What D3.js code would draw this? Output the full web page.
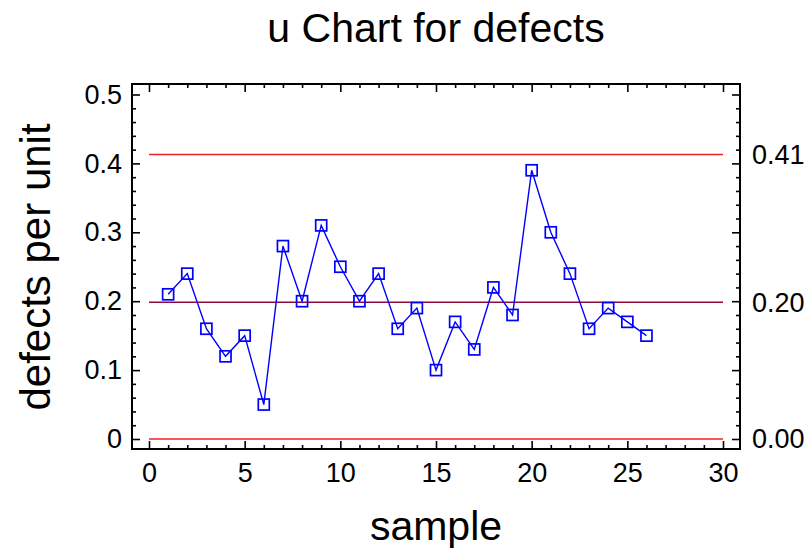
<!DOCTYPE html>
<html>
<head>
<meta charset="utf-8">
<script src="https://cdn.jsdelivr.net/npm/d3@7"></script>
<style>
  body { margin: 0; background: #fff; }
  text { font-family: "Liberation Sans", Arial, sans-serif; fill: #000; }
</style>
</head>
<body>
<svg id="chart" width="807" height="550"></svg>
<script>
// ---- data ----
const samples = [1,2,3,4,5,6,7,8,9,10,11,12,13,14,15,16,17,18,19,20,21,22,23,24,25,26];
const defectsPerUnit = [0.21,0.24,0.16,0.12,0.15,0.05,0.28,0.20,0.31,0.25,0.20,0.24,0.16,0.19,0.10,0.17,0.13,0.22,0.18,0.39,0.30,0.24,0.16,0.19,0.17,0.15];
const limitValues = [0.413, 0.1985, 0.0];          // UCL, CL, LCL
const limitLabels = ["0.41", "0.20", "0.00"];
const limitColors = ["#f02020", "#8c0a3c", "#f02020"];
const xTicks = [0,5,10,15,20,25,30];
const yTicks = [0,0.1,0.2,0.3,0.4,0.5];
const yTickLabels = ["0","0.1","0.2","0.3","0.4","0.5"];
const xMinorTicks = d3.range(0, 31, 1).filter(v => v % 5 !== 0);
const yMinorTicks = d3.range(0, 26, 1).map(i => +(i*0.02).toFixed(2)).filter(v => Math.round(v*100) % 10 !== 0);

const svg = d3.select("#chart");
const L = 132, R = 740, T = 84, B = 449;
const tickFont = 27, titleFont = 41;

const x = d3.scaleLinear().domain([0, 30]).range([149, 723]);
const y = d3.scaleLinear().domain([0, 0.5]).range([439, 94.5]);

// frame
svg.append("rect").attr("x", L).attr("y", T).attr("width", R - L).attr("height", B - T)
  .attr("fill", "none").attr("stroke", "#000").attr("stroke-width", 2);

function styleAxis(g) {
  g.select(".domain").remove();
  g.selectAll("line").attr("stroke", "#000").attr("stroke-width", 1.6);
  g.selectAll("text").style("font-family", '"Liberation Sans", Arial, sans-serif');
}

// y axes (left: labelled)
svg.append("g").attr("transform", `translate(${L},0)`)
  .call(d3.axisLeft(y).tickValues(yTicks).tickFormat((d,i) => yTickLabels[i]).tickSizeInner(-8).tickPadding(10))
  .call(styleAxis)
  .selectAll("text").attr("font-size", tickFont).attr("fill", "#000");
svg.append("g").attr("transform", `translate(${L},0)`)
  .call(d3.axisLeft(y).tickValues(yMinorTicks).tickFormat("").tickSizeInner(-4))
  .call(styleAxis);
svg.append("g").attr("transform", `translate(${R},0)`)
  .call(d3.axisRight(y).tickValues(yTicks).tickFormat("").tickSizeInner(-8))
  .call(styleAxis);
svg.append("g").attr("transform", `translate(${R},0)`)
  .call(d3.axisRight(y).tickValues(yMinorTicks).tickFormat("").tickSizeInner(-4))
  .call(styleAxis);

// x axes
svg.append("g").attr("transform", `translate(0,${B})`)
  .call(d3.axisBottom(x).tickValues(xTicks).tickFormat(d3.format("d")).tickSizeInner(-8).tickPadding(14))
  .call(styleAxis)
  .selectAll("text").attr("font-size", tickFont).attr("fill", "#000");
svg.append("g").attr("transform", `translate(0,${B})`)
  .call(d3.axisBottom(x).tickValues(xMinorTicks).tickFormat("").tickSizeInner(-4))
  .call(styleAxis);
svg.append("g").attr("transform", `translate(0,${T})`)
  .call(d3.axisTop(x).tickValues(xTicks).tickFormat("").tickSizeInner(-8))
  .call(styleAxis);
svg.append("g").attr("transform", `translate(0,${T})`)
  .call(d3.axisTop(x).tickValues(xMinorTicks).tickFormat("").tickSizeInner(-4))
  .call(styleAxis);

// control limit lines
svg.append("g").selectAll("line").data(limitValues).join("line")
  .attr("x1", x(0)).attr("x2", x(30))
  .attr("y1", d => y(d)).attr("y2", d => y(d))
  .attr("stroke", (d,i) => limitColors[i]).attr("stroke-width", 1.6);

svg.append("g").selectAll("text").data(limitValues).join("text")
  .attr("x", R + 12).attr("y", d => y(d)).attr("dy", "0.35em")
  .attr("font-size", tickFont)
  .text((d,i) => limitLabels[i]);

// data line
const pts = samples.map((s,i) => [s, defectsPerUnit[i]]);
svg.append("path").datum(pts)
  .attr("fill", "none").attr("stroke", "#0000ff").attr("stroke-width", 1.4)
  .attr("d", d3.line().x(d => x(d[0])).y(d => y(d[1])));

svg.append("g").selectAll("rect").data(pts).join("rect")
  .attr("x", d => x(d[0]) - 5.5).attr("y", d => y(d[1]) - 5.5)
  .attr("width", 11).attr("height", 11)
  .attr("fill", "none").attr("stroke", "#0000ff").attr("stroke-width", 1.7);

// titles
svg.append("text").attr("x", 436).attr("y", 42).attr("text-anchor", "middle")
  .attr("font-size", titleFont).text("u Chart for defects");
svg.append("text").attr("x", 436).attr("y", 540).attr("text-anchor", "middle")
  .attr("font-size", titleFont).text("sample");
svg.append("text").attr("transform", "translate(50,267) rotate(-90)").attr("text-anchor", "middle")
  .attr("font-size", 42).text("defects per unit");
</script>
</body>
</html>
